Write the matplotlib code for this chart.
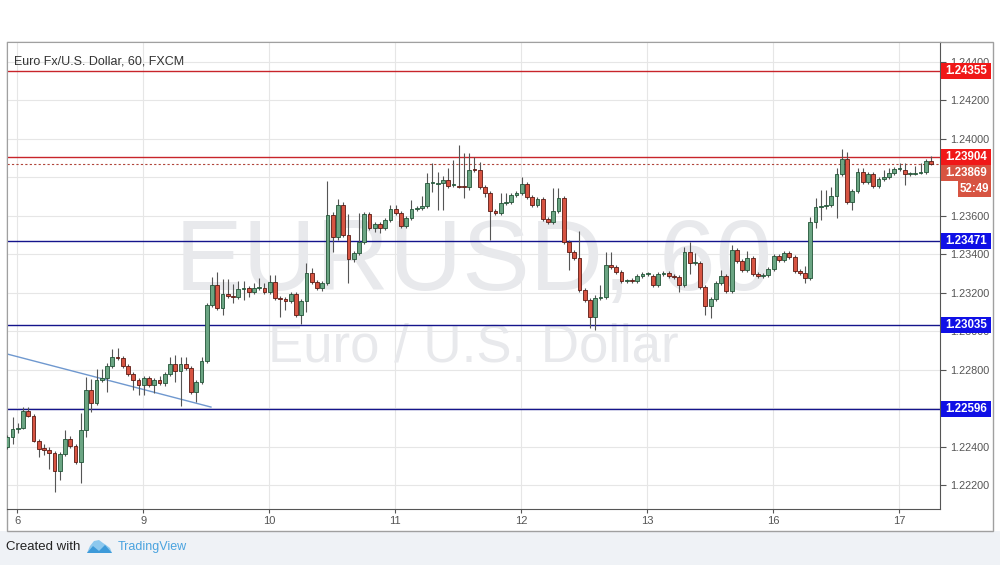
import numpy as np
import matplotlib
matplotlib.use('Agg')
from matplotlib import pyplot as plt
from matplotlib.patches import Rectangle, Polygon

plt.rcParams['font.family'] = ['Liberation Sans', 'DejaVu Sans']

# EUR/USD 60 min candles
opens = np.array([
    1.22398, 1.22450, 1.22492, 1.22497, 1.22586, 1.22560, 1.22430, 1.22393, 1.22383, 1.22367,
    1.22274, 1.22362, 1.22440, 1.22404, 1.22320, 1.22487, 1.22695, 1.22627, 1.22747, 1.22757,
    1.22820, 1.22866, 1.22861, 1.22820, 1.22778, 1.22747, 1.22721, 1.22757, 1.22721, 1.22747,
    1.22731, 1.22778, 1.22830, 1.22794, 1.22830, 1.22809, 1.22684, 1.22736, 1.22846, 1.23137,
    1.23241, 1.23121, 1.23194, 1.23184, 1.23178, 1.23220, 1.23225, 1.23204, 1.23225, 1.23225,
    1.23204, 1.23256, 1.23173, 1.23168, 1.23158, 1.23194, 1.23085, 1.23158, 1.23303, 1.23256,
    1.23225, 1.23251, 1.23605, 1.23490, 1.23657, 1.23501, 1.23376, 1.23407, 1.23464, 1.23610,
    1.23537, 1.23558, 1.23537, 1.23579, 1.23636, 1.23615, 1.23548, 1.23589, 1.23636, 1.23641,
    1.23652, 1.23771, 1.23766, 1.23771, 1.23787, 1.23761, 1.23756, 1.23756, 1.23750, 1.23844,
    1.23839, 1.23750, 1.23719, 1.23626, 1.23615, 1.23667, 1.23672, 1.23709, 1.23719, 1.23766,
    1.23698, 1.23657, 1.23688, 1.23584, 1.23568, 1.23626, 1.23693, 1.23464, 1.23412, 1.23381,
    1.23215, 1.23163, 1.23074, 1.23173, 1.23178, 1.23345, 1.23334, 1.23308, 1.23262, 1.23267,
    1.23262, 1.23288, 1.23298, 1.23288, 1.23241, 1.23298, 1.23303, 1.23288, 1.23282, 1.23241,
    1.23412, 1.23355, 1.23355, 1.23230, 1.23132, 1.23168, 1.23251, 1.23288, 1.23210, 1.23423,
    1.23366, 1.23319, 1.23381, 1.23298, 1.23288, 1.23293, 1.23324, 1.23392, 1.23371, 1.23407,
    1.23386, 1.23314, 1.23303, 1.23277, 1.23568, 1.23646, 1.23652, 1.23657, 1.23704, 1.23818,
    1.23896, 1.23672, 1.23730, 1.23828, 1.23776, 1.23818, 1.23756, 1.23792, 1.23802, 1.23823,
    1.23844, 1.23839, 1.23818, 1.23818, 1.23823, 1.23828, 1.23886])

closes = np.array([
    1.22450, 1.22492, 1.22497, 1.22586, 1.22560, 1.22430, 1.22388, 1.22383, 1.22367, 1.22274,
    1.22362, 1.22440, 1.22404, 1.22320, 1.22487, 1.22695, 1.22627, 1.22747, 1.22757, 1.22820,
    1.22866, 1.22861, 1.22820, 1.22778, 1.22747, 1.22721, 1.22757, 1.22721, 1.22747, 1.22731,
    1.22778, 1.22830, 1.22794, 1.22830, 1.22809, 1.22684, 1.22736, 1.22846, 1.23137, 1.23241,
    1.23121, 1.23194, 1.23184, 1.23178, 1.23220, 1.23225, 1.23204, 1.23225, 1.23230, 1.23204,
    1.23256, 1.23173, 1.23168, 1.23158, 1.23194, 1.23085, 1.23158, 1.23303, 1.23256, 1.23225,
    1.23251, 1.23605, 1.23490, 1.23657, 1.23501, 1.23376, 1.23407, 1.23464, 1.23610, 1.23537,
    1.23558, 1.23537, 1.23579, 1.23636, 1.23615, 1.23548, 1.23589, 1.23636, 1.23641, 1.23652,
    1.23771, 1.23776, 1.23771, 1.23787, 1.23756, 1.23766, 1.23750, 1.23750, 1.23839, 1.23839,
    1.23750, 1.23719, 1.23626, 1.23615, 1.23667, 1.23672, 1.23709, 1.23719, 1.23766, 1.23698,
    1.23657, 1.23688, 1.23584, 1.23568, 1.23626, 1.23693, 1.23464, 1.23412, 1.23381, 1.23215,
    1.23163, 1.23074, 1.23173, 1.23178, 1.23345, 1.23334, 1.23308, 1.23262, 1.23267, 1.23262,
    1.23288, 1.23298, 1.23303, 1.23241, 1.23298, 1.23303, 1.23288, 1.23282, 1.23241, 1.23412,
    1.23355, 1.23360, 1.23230, 1.23132, 1.23168, 1.23251, 1.23288, 1.23210, 1.23423, 1.23366,
    1.23319, 1.23381, 1.23298, 1.23288, 1.23293, 1.23324, 1.23392, 1.23371, 1.23407, 1.23386,
    1.23314, 1.23303, 1.23277, 1.23568, 1.23646, 1.23652, 1.23657, 1.23704, 1.23818, 1.23896,
    1.23672, 1.23730, 1.23828, 1.23776, 1.23818, 1.23756, 1.23792, 1.23802, 1.23823, 1.23844,
    1.23849, 1.23818, 1.23823, 1.23823, 1.23828, 1.23886, 1.23869])

highs = np.array([
    1.22461, 1.22554, 1.22523, 1.22606, 1.22606, 1.22570, 1.22440, 1.22414, 1.22398, 1.22378,
    1.22372, 1.22487, 1.22456, 1.22414, 1.22575, 1.22762, 1.22752, 1.22804, 1.22804, 1.22835,
    1.22908, 1.22913, 1.22872, 1.22830, 1.22788, 1.22757, 1.22768, 1.22768, 1.22757, 1.22768,
    1.22788, 1.22866, 1.22877, 1.22866, 1.22866, 1.22820, 1.22747, 1.22866, 1.23147, 1.23282,
    1.23308, 1.23272, 1.23272, 1.23246, 1.23262, 1.23262, 1.23236, 1.23251, 1.23277, 1.23251,
    1.23293, 1.23293, 1.23184, 1.23178, 1.23204, 1.23204, 1.23168, 1.23355, 1.23329, 1.23267,
    1.23262, 1.23782, 1.23620, 1.23688, 1.23672, 1.23610, 1.23418, 1.23615, 1.23620, 1.23620,
    1.23568, 1.23568, 1.23589, 1.23657, 1.23657, 1.23626, 1.23600, 1.23683, 1.23652, 1.23704,
    1.23823, 1.23875, 1.23828, 1.23808, 1.23849, 1.23891, 1.23969, 1.23927, 1.23927, 1.23906,
    1.23880, 1.23761, 1.23730, 1.23636, 1.23719, 1.23719, 1.23719, 1.23730, 1.23802, 1.23776,
    1.23709, 1.23698, 1.23698, 1.23594, 1.23745, 1.23745, 1.23704, 1.23475, 1.23423, 1.23522,
    1.23225, 1.23173, 1.23189, 1.23241, 1.23412, 1.23412, 1.23345, 1.23319, 1.23272, 1.23277,
    1.23298, 1.23308, 1.23308, 1.23298, 1.23308, 1.23314, 1.23314, 1.23298, 1.23293, 1.23438,
    1.23464, 1.23407, 1.23366, 1.23241, 1.23178, 1.23262, 1.23319, 1.23298, 1.23449, 1.23433,
    1.23376, 1.23418, 1.23392, 1.23308, 1.23303, 1.23334, 1.23402, 1.23402, 1.23418, 1.23418,
    1.23397, 1.23324, 1.23340, 1.23594, 1.23693, 1.23735, 1.23735, 1.23750, 1.23849, 1.23948,
    1.23932, 1.23740, 1.23849, 1.23849, 1.23828, 1.23828, 1.23802, 1.23839, 1.23849, 1.23854,
    1.23875, 1.23875, 1.23828, 1.23860, 1.23875, 1.23896, 1.23912])

lows = np.array([
    1.22388, 1.22414, 1.22471, 1.22492, 1.22554, 1.22424, 1.22346, 1.22357, 1.22284, 1.22164,
    1.22227, 1.22352, 1.22393, 1.22310, 1.22211, 1.22450, 1.22580, 1.22617, 1.22736, 1.22684,
    1.22809, 1.22851, 1.22809, 1.22768, 1.22695, 1.22669, 1.22669, 1.22710, 1.22679, 1.22721,
    1.22716, 1.22768, 1.22736, 1.22612, 1.22799, 1.22674, 1.22632, 1.22726, 1.22835, 1.23126,
    1.23111, 1.23085, 1.23173, 1.23147, 1.23168, 1.23163, 1.23178, 1.23194, 1.23215, 1.23194,
    1.23194, 1.23163, 1.23074, 1.23111, 1.23147, 1.23074, 1.23038, 1.23100, 1.23246, 1.23215,
    1.23210, 1.23241, 1.23412, 1.23475, 1.23490, 1.23251, 1.23360, 1.23397, 1.23454, 1.23527,
    1.23516, 1.23511, 1.23527, 1.23568, 1.23605, 1.23537, 1.23537, 1.23579, 1.23626, 1.23631,
    1.23641, 1.23724, 1.23631, 1.23631, 1.23745, 1.23750, 1.23745, 1.23693, 1.23735, 1.23828,
    1.23740, 1.23698, 1.23475, 1.23605, 1.23605, 1.23657, 1.23662, 1.23698, 1.23709, 1.23688,
    1.23646, 1.23646, 1.23574, 1.23558, 1.23558, 1.23615, 1.23454, 1.23319, 1.23371, 1.23204,
    1.23152, 1.23017, 1.23007, 1.23163, 1.23168, 1.23324, 1.23298, 1.23251, 1.23251, 1.23251,
    1.23251, 1.23277, 1.23288, 1.23230, 1.23230, 1.23288, 1.23277, 1.23272, 1.23204, 1.23230,
    1.23298, 1.23345, 1.23220, 1.23085, 1.23069, 1.23158, 1.23241, 1.23199, 1.23199, 1.23355,
    1.23308, 1.23308, 1.23288, 1.23277, 1.23277, 1.23282, 1.23314, 1.23360, 1.23360, 1.23376,
    1.23303, 1.23293, 1.23251, 1.23267, 1.23537, 1.23579, 1.23636, 1.23646, 1.23589, 1.23808,
    1.23662, 1.23631, 1.23719, 1.23766, 1.23766, 1.23745, 1.23745, 1.23782, 1.23792, 1.23813,
    1.23834, 1.23761, 1.23808, 1.23813, 1.23818, 1.23818, 1.23865])

day_labels = ['6', '9', '10', '11', '12', '13', '16', '17']
bars_per_day = 24
first_day_bar = 1.9

red_levels = [1.24355, 1.23904]
blue_levels = [1.23471, 1.23035, 1.22596]
last_price = 1.23869
countdown = '52:49'
trend_x = [-0.06, 38.8]
trend_y = [1.22882, 1.22606]

price_ticks = np.arange(1.222, 1.2441, 0.002)
# scale labels that the tags cover completely in the screenshot
hidden_ticks = ['1.23800', '1.22600']

fig = plt.figure(figsize=(10, 5.65), dpi=100, facecolor='#eff2f6')


def fy(py):
    return 1 - py / 565


# white widget area + frame, kept under the axes
fig.patches.append(Rectangle((0, fy(531)), 1, 1 - fy(531), transform=fig.transFigure,
                             facecolor='white', edgecolor='none', zorder=-2))
fig.patches.append(Rectangle((0.007, fy(531)), 0.986, fy(42) - fy(531), transform=fig.transFigure,
                             facecolor='white', edgecolor='#a0a0a0', lw=1, zorder=-1))

ax = fig.add_axes([0.007, fy(509), 0.933, (509 - 42) / 565])
ax.set_zorder(1)
ax.set_xlim(-0.06, 177.7)
ax.set_ylim(1.22076, 1.24504)
ax.set_facecolor('white')

ax.yaxis.tick_right()
ax.set_yticks(price_ticks)
tick_text = [f'{v:.5f}' for v in price_ticks]
ax.set_yticklabels(['' if t in hidden_ticks else t for t in tick_text])
ax.set_xticks(first_day_bar + bars_per_day * np.arange(len(day_labels)))
ax.set_xticklabels(day_labels)
ax.tick_params(axis='y', length=4, color='#555555', labelcolor='#555555', labelsize=7.8, pad=3)
ax.tick_params(axis='x', length=3, color='#555555', labelcolor='#555555', labelsize=8, pad=2)
ax.grid(color='#e6e6e6', lw=0.8)
ax.set_axisbelow(True)
for side in ['left', 'top']:
    ax.spines[side].set_color('#a0a0a0')
for side in ['right', 'bottom']:
    ax.spines[side].set_color('#555555')

# watermark
ax.text(0.5, 0.469, 'EURUSD, 60', transform=ax.transAxes, ha='center', va='baseline',
        size=73, color='#e8e9ec', zorder=1)
ax.text(0.5, 0.315, 'Euro / U.S. Dollar', transform=ax.transAxes, ha='center', va='baseline',
        size=38, color='#e8e9ec', zorder=1)

# level lines
for lv in red_levels:
    ax.axhline(lv, color='#c8242a', lw=1, zorder=2)
for lv in blue_levels:
    ax.axhline(lv, color='#14148c', lw=1, zorder=2)
ax.axhline(last_price, color='#b0453a', lw=0.8, ls=(0, (2, 2)), zorder=2)
ax.plot(trend_x, trend_y, color='#6f98cf', lw=1, zorder=2)

# candles
x = np.arange(len(closes))
up = closes >= opens
body_lo = np.minimum(opens, closes)
body_h = np.maximum(np.abs(closes - opens), 0.00002)
hi = np.maximum(highs, np.maximum(opens, closes))
lo = np.minimum(lows, np.minimum(opens, closes))
ax.vlines(x, lo, hi, color='#555555', lw=0.8, zorder=3)
ax.bar(x[up], body_h[up], bottom=body_lo[up], width=0.72, color='#6ba583',
       edgecolor='#225437', lw=0.6, zorder=4)
ax.bar(x[~up], body_h[~up], bottom=body_lo[~up], width=0.72, color='#d75442',
       edgecolor='#5b1a13', lw=0.6, zorder=4)

# price tags on the scale
trans = ax.get_yaxis_transform()
tag_h = 16 * (ax.get_ylim()[1] - ax.get_ylim()[0]) / 467


def price_tag(price, label, color, left=1.001, right=1.0547):
    ax.add_patch(Rectangle((left, price - tag_h / 2), right - left, tag_h, transform=trans,
                           facecolor=color, edgecolor='none', clip_on=False, zorder=6))
    ax.text((left + right) / 2, price, label, transform=trans, ha='center', va='center',
            color='white', fontweight='bold', size=8.3, clip_on=False, zorder=7)


for lv in red_levels:
    price_tag(lv, f'{lv:.5f}', '#f01818')
for lv in blue_levels:
    price_tag(lv, f'{lv:.5f}', '#1010e6')
# the last-price tag would collide with 1.23904, so it is stacked just under it
tag_y = min(last_price, red_levels[1] - tag_h)
price_tag(tag_y, f'{last_price:.5f}', '#d75442')
price_tag(tag_y - tag_h, countdown, '#d75442', left=1.0193)

fig.text(0.014, fy(64), 'Euro Fx/U.S. Dollar, 60, FXCM', va='baseline', size=9, color='#333333',
         zorder=5)

# footer
fig.text(0.006, fy(547), 'Created with', va='center', size=9.5, color='#222222')
logo = [(87, 553), (90, 546), (94, 541), (99, 540), (103, 543), (106, 545), (110, 548), (112, 553)]
fig.patches.append(Polygon([(px / 1000, fy(py)) for px, py in logo], closed=True,
                           transform=fig.transFigure, facecolor='#8cc8ee', edgecolor='none'))
wave = [(87, 553), (93, 546), (99, 551), (105, 545), (112, 553)]
fig.patches.append(Polygon([(px / 1000, fy(py)) for px, py in wave], closed=True,
                           transform=fig.transFigure, facecolor='#3d9ad9', edgecolor='none'))
fig.text(0.118, fy(547), 'TradingView', va='center', size=9, color='#4aa3df')

fig.savefig('out.png', dpi=100, facecolor=fig.get_facecolor())
